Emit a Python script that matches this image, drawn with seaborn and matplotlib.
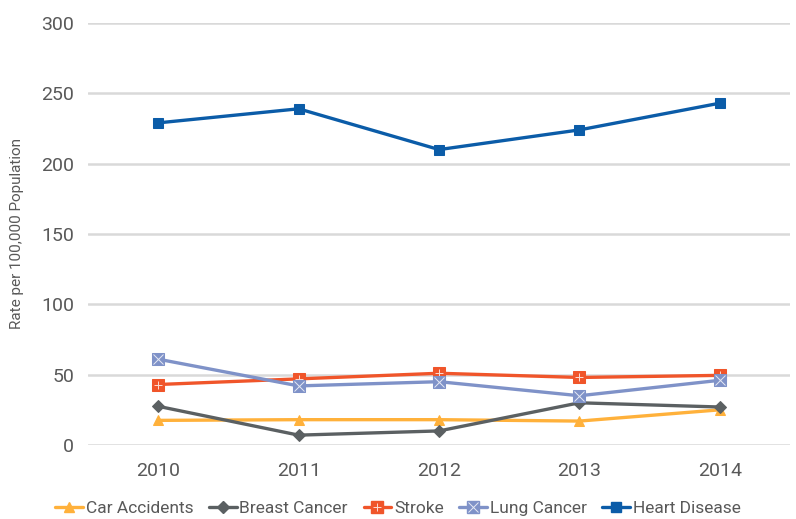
import matplotlib
matplotlib.use("Agg")
import matplotlib.pyplot as plt
from matplotlib.legend_handler import HandlerTuple
from matplotlib.lines import Line2D
import seaborn as sns
import pandas as pd

years = [2010, 2011, 2012, 2013, 2014]
car_accidents = [17.5, 18, 18, 17, 25]
breast_cancer = [27.5, 7, 10, 30, 27]
stroke = [43, 47, 51, 48, 49.5]
lung_cancer = [61, 42, 45, 35, 46]
heart_disease = [229, 239, 210, 224, 243]

series = ["Car Accidents", "Breast Cancer", "Stroke", "Lung Cancer", "Heart Disease"]
values = [car_accidents, breast_cancer, stroke, lung_cancer, heart_disease]
colors = ["#FFB13B", "#5B6062", "#F0552A", "#7F92C8", "#0B5CA8"]
markers = ["^", "D", "s", "s", "s"]
overlays = [None, None, "+", "x", None]
msizes = [7.5, 6.5, 8, 9, 7.5]

df = pd.DataFrame({
    "Year": years * len(series),
    "Rate": [v for vals in values for v in vals],
    "Cause": [s for s in series for _ in years],
})

sns.set_style("white")
plt.rcParams["font.family"] = ["Roboto", "DejaVu Sans"]
text_col = "#595959"

fig = plt.figure(figsize=(7.96, 5.19), dpi=100)
ax = fig.add_axes([0.1106, 0.1426, 0.8819, 0.8131])

handles = []
for name, col, mk, ov, ms in zip(series, colors, markers, overlays, msizes):
    sub = df[df["Cause"] == name]
    sns.lineplot(data=sub, x="Year", y="Rate", ax=ax, color=col, linewidth=2.4,
                 marker=mk, markersize=ms, markeredgecolor=col, legend=False)
    h = Line2D([], [], color=col, linewidth=2.4, marker=mk, markersize=ms,
               markeredgecolor=col)
    if ov:
        ax.plot(sub["Year"], sub["Rate"], linestyle="none", marker=ov,
                markersize=ms * 0.8, color="white", markeredgewidth=0.7, alpha=0.8)
        h = (h, Line2D([], [], linestyle="none", marker=ov, markersize=ms * 0.8,
                       color="white", markeredgewidth=0.7, alpha=0.8))
    handles.append(h)

ax.set_xlim(2009.5, 2014.5)
ax.set_ylim(0, 300)
ax.set_xticks(years)
ax.set_xticklabels([str(y) for y in years])
ax.set_yticks(range(0, 301, 50))
ax.yaxis.grid(True, color="#D9D9D9", linewidth=1.8)
ax.xaxis.grid(False)
ax.set_axisbelow(True)
for sp in ax.spines.values():
    sp.set_visible(False)
ax.tick_params(axis="both", length=0, labelsize=14, colors=text_col, pad=10)
ax.tick_params(axis="x", pad=12)
ax.set_xlabel("")
ax.set_ylabel("Rate per 100,000 Population", fontsize=11, color=text_col, labelpad=12)

leg = fig.legend(handles, series, loc="lower center", bbox_to_anchor=(0.5, -0.025),
                 ncol=5, frameon=False, fontsize=12.5, handlelength=1.6,
                 handletextpad=0.15, columnspacing=0.9,
                 handler_map={tuple: HandlerTuple(ndivide=1)})
for t in leg.get_texts():
    t.set_color(text_col)

fig.savefig("out.png", dpi=100)
